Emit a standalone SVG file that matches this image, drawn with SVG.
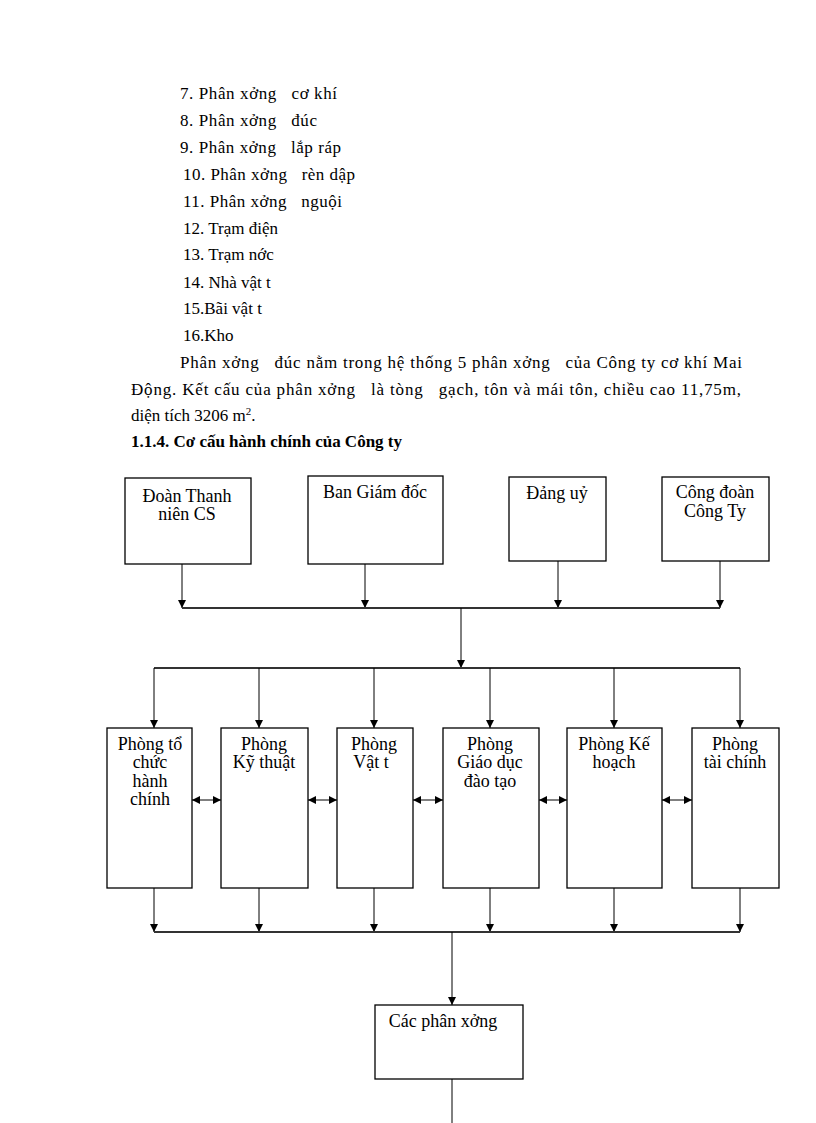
<svg xmlns="http://www.w3.org/2000/svg" width="816" height="1123" viewBox="0 0 816 1123" xml:space="preserve">
<style>
text{font-family:"Liberation Serif","Times New Roman",serif;fill:#000;white-space:pre}
.t{font-size:17px}
.h{font-size:17px;font-weight:bold}
.b{font-size:18px;text-anchor:middle}
.box{fill:#fff;stroke:#000;stroke-width:1.3}
.ln{stroke:#000;stroke-width:1;fill:none}
.bus{stroke:#333;stroke-width:1.8;fill:none}
</style>
<defs>
<marker id="ah" viewBox="0 0 10 10" refX="10" refY="5" markerWidth="9" markerHeight="8" markerUnits="userSpaceOnUse" orient="auto">
<path d="M0,0 L10,5 L0,10 z" fill="#000"/>
</marker>
<marker id="as" viewBox="0 0 10 10" refX="0" refY="5" markerWidth="9" markerHeight="8" markerUnits="userSpaceOnUse" orient="auto">
<path d="M10,0 L0,5 L10,10 z" fill="#000"/>
</marker>
</defs>
<rect width="816" height="1123" fill="#fff"/>
<g id="text-list">
<text class="t" x="180" y="99" textLength="157" lengthAdjust="spacing">7. Phân xởng   cơ khí</text>
<text class="t" x="180" y="126" textLength="137" lengthAdjust="spacing">8. Phân xởng   đúc</text>
<text class="t" x="180" y="153" textLength="161" lengthAdjust="spacing">9. Phân xởng   lắp ráp</text>
<text class="t" x="183" y="180" textLength="172" lengthAdjust="spacing">10. Phân xởng   rèn dập</text>
<text class="t" x="183" y="207" textLength="159" lengthAdjust="spacing">11. Phân xởng   nguội</text>
<text class="t" x="183" y="234">12. Trạm điện</text>
<text class="t" x="183" y="260">13. Trạm nớc</text>
<text class="t" x="183" y="288">14. Nhà vật t</text>
<text class="t" x="183" y="314">15.Bãi vật t</text>
<text class="t" x="183" y="341">16.Kho</text>
<text class="t" x="180" y="368" textLength="562" lengthAdjust="spacing">Phân xởng   đúc nằm trong hệ thống 5 phân xởng   của Công ty cơ khí Mai</text>
<text class="t" x="131" y="395" textLength="610" lengthAdjust="spacing">Động. Kết cấu của phân xởng   là tòng   gạch, tôn và mái tôn, chiều cao 11,75m,</text>
<text class="t" x="131" y="421">diện tích 3206 m<tspan font-size="11" dy="-6">2</tspan><tspan dy="6">.</tspan></text>
<text class="h" x="131" y="447" textLength="271" lengthAdjust="spacing">1.1.4. Cơ cấu hành chính của Công ty</text>
</g>
<g id="connectors">
<line class="ln" x1="182" y1="564" x2="182" y2="608" marker-end="url(#ah)"/>
<line class="ln" x1="365" y1="564" x2="365" y2="608" marker-end="url(#ah)"/>
<line class="ln" x1="558" y1="561" x2="558" y2="608" marker-end="url(#ah)"/>
<line class="ln" x1="720" y1="561" x2="720" y2="608" marker-end="url(#ah)"/>
<line class="bus" x1="182" y1="608" x2="720" y2="608"/>
<line class="ln" x1="461" y1="608" x2="461" y2="668" marker-end="url(#ah)"/>
<line class="bus" x1="154" y1="668" x2="740" y2="668"/>
<line class="ln" x1="154" y1="668" x2="154" y2="728" marker-end="url(#ah)"/>
<line class="ln" x1="259" y1="668" x2="259" y2="728" marker-end="url(#ah)"/>
<line class="ln" x1="374" y1="668" x2="374" y2="728" marker-end="url(#ah)"/>
<line class="ln" x1="490" y1="668" x2="490" y2="728" marker-end="url(#ah)"/>
<line class="ln" x1="614" y1="668" x2="614" y2="728" marker-end="url(#ah)"/>
<line class="ln" x1="740" y1="668" x2="740" y2="728" marker-end="url(#ah)"/>
<line class="ln" x1="192" y1="800" x2="221" y2="800" marker-start="url(#as)" marker-end="url(#ah)"/>
<line class="ln" x1="308" y1="800" x2="337" y2="800" marker-start="url(#as)" marker-end="url(#ah)"/>
<line class="ln" x1="413" y1="800" x2="443" y2="800" marker-start="url(#as)" marker-end="url(#ah)"/>
<line class="ln" x1="539" y1="800" x2="567" y2="800" marker-start="url(#as)" marker-end="url(#ah)"/>
<line class="ln" x1="662" y1="800" x2="692" y2="800" marker-start="url(#as)" marker-end="url(#ah)"/>
<line class="ln" x1="154" y1="888" x2="154" y2="932" marker-end="url(#ah)"/>
<line class="ln" x1="259" y1="888" x2="259" y2="932" marker-end="url(#ah)"/>
<line class="ln" x1="374" y1="888" x2="374" y2="932" marker-end="url(#ah)"/>
<line class="ln" x1="490" y1="888" x2="490" y2="932" marker-end="url(#ah)"/>
<line class="ln" x1="614" y1="888" x2="614" y2="932" marker-end="url(#ah)"/>
<line class="ln" x1="740" y1="888" x2="740" y2="932" marker-end="url(#ah)"/>
<line class="bus" x1="154" y1="932" x2="740" y2="932"/>
<line class="ln" x1="452" y1="932" x2="452" y2="1005" marker-end="url(#ah)"/>
<line class="ln" x1="452" y1="1079" x2="452" y2="1123"/>
</g>
<g id="doan-thanh-nien">
<rect class="box" x="125" y="478" width="126" height="86"/>
<text class="b" x="187" y="502">Đoàn Thanh</text>
<text class="b" x="187" y="520">niên CS</text>
</g>
<g id="ban-giam-doc">
<rect class="box" x="308" y="476" width="135" height="88"/>
<text class="b" x="375" y="498">Ban Giám đốc</text>
</g>
<g id="dang-uy">
<rect class="box" x="509" y="477" width="97" height="84"/>
<text class="b" x="557" y="499">Đảng uỷ</text>
</g>
<g id="cong-doan">
<rect class="box" x="662" y="477" width="107" height="84"/>
<text class="b" x="715" y="498">Công đoàn</text>
<text class="b" x="715" y="517">Công Ty</text>
</g>
<g id="phong-to-chuc">
<rect class="box" x="107" y="728" width="85" height="160"/>
<text class="b" x="150" y="750">Phòng tổ</text>
<text class="b" x="150" y="768">chức</text>
<text class="b" x="150" y="787">hành</text>
<text class="b" x="150" y="805">chính</text>
</g>
<g id="phong-ky-thuat">
<rect class="box" x="221" y="728" width="87" height="160"/>
<text class="b" x="264" y="750">Phòng</text>
<text class="b" x="264" y="768">Kỹ thuật</text>
</g>
<g id="phong-vat-tu">
<rect class="box" x="337" y="728" width="76" height="160"/>
<text class="b" x="374" y="750">Phòng</text>
<text class="b" x="371" y="768">Vật t</text>
</g>
<g id="phong-giao-duc">
<rect class="box" x="443" y="728" width="96" height="160"/>
<text class="b" x="490" y="750">Phòng</text>
<text class="b" x="490" y="768">Giáo dục</text>
<text class="b" x="490" y="787">đào tạo</text>
</g>
<g id="phong-ke-hoach">
<rect class="box" x="567" y="728" width="95" height="160"/>
<text class="b" x="614" y="750">Phòng Kế</text>
<text class="b" x="614" y="768">hoạch</text>
</g>
<g id="phong-tai-chinh">
<rect class="box" x="692" y="728" width="87" height="160"/>
<text class="b" x="735" y="750">Phòng</text>
<text class="b" x="735" y="768">tài chính</text>
</g>
<g id="cac-phan-xuong">
<rect class="box" x="375" y="1005" width="148" height="74"/>
<text class="b" x="443" y="1027">Các phân xởng</text>
</g>
</svg>
